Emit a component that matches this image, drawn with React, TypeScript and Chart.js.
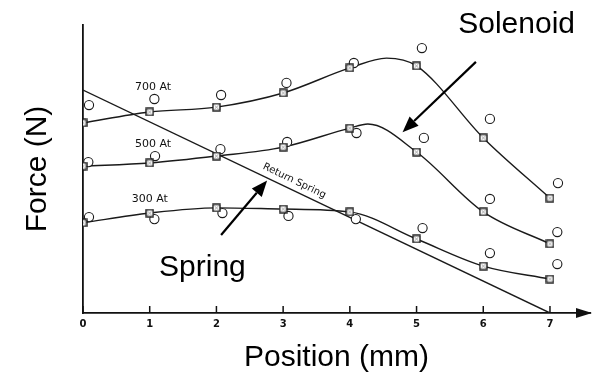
import { useEffect, useRef } from "react";
import { Chart, registerables } from "chart.js";

Chart.register(...registerables);

// ---------- data ----------
const POSITIONS = [0, 1, 2, 3, 4, 5, 6, 7];

// fitted points (squares)
const SQ_700 = [6.6, 6.98, 7.15, 7.64, 8.51, 8.58, 6.08, 3.99];
const SQ_500 = [5.1, 5.21, 5.45, 5.76, 6.42, 5.59, 3.51, 2.4];
const SQ_300 = [3.13, 3.47, 3.65, 3.61, 3.51, 2.57, 1.63, 1.18];

// measured points (circles)
const MEAS_700_X = [0.09, 1.07, 2.07, 3.05, 4.06, 5.08, 6.1, 7.12];
const MEAS_700 = [7.22, 7.43, 7.57, 7.99, 8.68, 9.2, 6.74, 4.51];
const MEAS_500_X = [0.08, 1.08, 2.06, 3.06, 4.1, 5.11, 6.1, 7.11];
const MEAS_500 = [5.24, 5.45, 5.69, 5.94, 6.25, 6.08, 3.96, 2.81];
const MEAS_300_X = [0.09, 1.07, 2.09, 3.08, 4.09, 5.09, 6.1, 7.11];
const MEAS_300 = [3.33, 3.26, 3.47, 3.37, 3.26, 2.95, 2.08, 1.7];

// smooth curves
const CURVE_700_X = [0, 1, 2, 3, 4, 4.55, 5, 6, 7];
const CURVE_700 = [6.6, 6.98, 7.15, 7.64, 8.51, 8.85, 8.58, 6.08, 3.99];
const CURVE_500_X = [0, 1, 2, 3, 4, 4.27, 5, 6, 7];
const CURVE_500 = [5.1, 5.21, 5.45, 5.76, 6.42, 6.56, 5.59, 3.51, 2.4];
const CURVE_300_X = [0, 1, 2, 3, 4, 5, 6, 7];
const CURVE_300 = [3.13, 3.47, 3.65, 3.61, 3.51, 2.57, 1.63, 1.18];

// return spring line
const SPRING_X = [0, 7];
const SPRING = [7.74, 0];

const CURVE_LABELS = ["700 At", "500 At", "300 At"];
const X_TITLE = "Position (mm)";
const Y_TITLE = "Force (N)";

const INK = "#111";
const BIG_FONT = '30px "Liberation Sans", Arial, sans-serif';
const SMALL_FONT = '11px "DejaVu Sans", sans-serif';

const pts = (xs: number[], ys: number[]) => xs.map((x, i) => ({ x, y: ys[i] }));

function makeSquareMarker(): HTMLCanvasElement {
  const c = document.createElement("canvas");
  c.width = 9;
  c.height = 9;
  const g = c.getContext("2d")!;
  g.fillStyle = "#fff";
  g.fillRect(1, 1, 7, 7);
  g.strokeStyle = "#1a1a1a";
  g.lineWidth = 1.4;
  g.strokeRect(1, 1, 7, 7);
  g.strokeStyle = "#777";
  g.lineWidth = 0.7;
  g.beginPath();
  g.moveTo(2.5, 2.5);
  g.lineTo(6.5, 6.5);
  g.moveTo(6.5, 2.5);
  g.lineTo(2.5, 6.5);
  g.stroke();
  return c;
}

function drawArrow(ctx: CanvasRenderingContext2D, x0: number, y0: number, x1: number, y1: number) {
  const ang = Math.atan2(y1 - y0, x1 - x0);
  const len = 16, half = 6.5;
  const bx = x1 - len * Math.cos(ang);
  const by = y1 - len * Math.sin(ang);
  ctx.beginPath();
  ctx.moveTo(x0, y0);
  ctx.lineTo(bx, by);
  ctx.lineWidth = 2.2;
  ctx.stroke();
  ctx.beginPath();
  ctx.moveTo(x1, y1);
  ctx.lineTo(bx + half * Math.sin(ang), by - half * Math.cos(ang));
  ctx.lineTo(bx - half * Math.sin(ang), by + half * Math.cos(ang));
  ctx.closePath();
  ctx.fill();
}

const annotations = {
  id: "annotations",
  afterDraw(chart: any) {
    const { ctx, chartArea, scales } = chart;
    const xs = scales.x, ys = scales.y;
    const X = (v: number) => xs.getPixelForValue(v);
    const Y = (v: number) => ys.getPixelForValue(v);
    ctx.save();
    ctx.strokeStyle = INK;
    ctx.fillStyle = INK;

    // upward tick marks
    ctx.lineWidth = 1.5;
    POSITIONS.forEach((p) => {
      ctx.beginPath();
      ctx.moveTo(X(p), chartArea.bottom);
      ctx.lineTo(X(p), chartArea.bottom - 7);
      ctx.stroke();
    });

    // axis arrowhead
    const r = chartArea.right + 2, b = chartArea.bottom;
    ctx.beginPath();
    ctx.moveTo(r, b);
    ctx.lineTo(r - 16, b - 5);
    ctx.lineTo(r - 16, b + 5);
    ctx.closePath();
    ctx.fill();

    // curve labels
    ctx.font = SMALL_FONT;
    ctx.textAlign = "center";
    ctx.textBaseline = "middle";
    const lx = [1.05, 1.05, 1.0];
    const ly = [7.85, 5.87, 3.96];
    CURVE_LABELS.forEach((t, i) => ctx.fillText(t, X(lx[i]), Y(ly[i])));

    // Return Spring label along the line
    const sx0 = X(SPRING_X[0]), sy0 = Y(SPRING[0]);
    const sx1 = X(SPRING_X[1]), sy1 = Y(SPRING[1]);
    const ang = Math.atan2(sy1 - sy0, sx1 - sx0);
    const t = 3.11 / 7;
    const cx = sx0 + (sx1 - sx0) * t + 9 * Math.sin(ang);
    const cy = sy0 + (sy1 - sy0) * t - 9 * Math.cos(ang);
    ctx.save();
    ctx.translate(cx, cy);
    ctx.rotate(ang);
    ctx.font = '10px "DejaVu Sans", sans-serif';
    ctx.fillText("Return Spring", 0, 0);
    ctx.restore();

    // big labels
    ctx.font = BIG_FONT;
    ctx.fillStyle = "#000";
    ctx.strokeStyle = "#000";
    ctx.fillText("Solenoid", X(6.5), Y(10.0));
    ctx.fillText("Spring", X(1.79), Y(1.56));

    // arrows
    drawArrow(ctx, X(5.89), Y(8.72), X(4.79), Y(6.28));
    drawArrow(ctx, X(2.07), Y(2.71), X(2.76), Y(4.6));

    ctx.restore();
  },
};

export default function App() {
  const ref = useRef<HTMLCanvasElement | null>(null);

  useEffect(() => {
    document.body.style.margin = "0";
    if (!ref.current) return;

    const squareMarker = makeSquareMarker();

    const curve = (xs: number[], ys: number[]) => ({
      type: "line" as const,
      data: pts(xs, ys),
      borderColor: "#1a1a1a",
      borderWidth: 1.4,
      pointRadius: 0,
      cubicInterpolationMode: "monotone" as const,
      fill: false,
      order: 2,
    });
    const squares = (ys: number[]) => ({
      type: "line" as const,
      data: pts(POSITIONS, ys),
      showLine: false,
      pointStyle: squareMarker,
      pointRadius: 4.5,
      order: 1,
    });
    const circles = (xs: number[], ys: number[]) => ({
      type: "line" as const,
      data: pts(xs, ys),
      showLine: false,
      pointStyle: "circle" as const,
      pointRadius: 4.6,
      pointBorderWidth: 1.1,
      pointBorderColor: "#1a1a1a",
      pointBackgroundColor: "#fff",
      order: 1,
    });

    const chart = new Chart(ref.current, {
      type: "line",
      data: {
        datasets: [
          curve(CURVE_700_X, CURVE_700),
          curve(CURVE_500_X, CURVE_500),
          curve(CURVE_300_X, CURVE_300),
          { ...curve(SPRING_X, SPRING), cubicInterpolationMode: "default", tension: 0 },
          squares(SQ_700),
          squares(SQ_500),
          squares(SQ_300),
          circles(MEAS_700_X, MEAS_700),
          circles(MEAS_500_X, MEAS_500),
          circles(MEAS_300_X, MEAS_300),
        ] as any,
      },
      options: {
        animation: false,
        responsive: false,
        maintainAspectRatio: false,
        layout: { padding: { top: 25, right: 16, left: 0, bottom: 0 } },
        plugins: { legend: { display: false }, tooltip: { enabled: false } },
        scales: {
          x: {
            type: "linear",
            min: 0,
            max: 7.6,
            grid: { display: false, drawTicks: false },
            border: { display: true, color: INK, width: 1.8 },
            ticks: {
              stepSize: 1,
              includeBounds: false,
              padding: 5,
              maxRotation: 0,
              color: INK,
              font: { family: '"DejaVu Sans", sans-serif', size: 10, weight: "bold" },
            },
            title: {
              display: true,
              text: X_TITLE,
              color: "#000",
              font: { family: '"Liberation Sans", Arial, sans-serif', size: 30 },
              padding: { top: 0, bottom: 0 },
            },
            afterFit: (s: any) => {
              s.height = 63;
            },
          },
          y: {
            type: "linear",
            min: 0,
            max: 10,
            grid: { display: false, drawTicks: false },
            border: { display: true, color: INK, width: 1.8 },
            ticks: { display: false },
            title: {
              display: true,
              text: Y_TITLE,
              color: "#000",
              font: { family: '"Liberation Sans", Arial, sans-serif', size: 30 },
              padding: { top: 20, bottom: 0 },
            },
            afterFit: (s: any) => {
              s.width = 83;
            },
          },
        },
      } as any,
      plugins: [annotations],
    });
    return () => chart.destroy();
  }, []);

  return (
    <div style={{ width: 606, height: 376, background: "#fff" }}>
      <canvas ref={ref} width={606} height={376} style={{ display: "block" }} />
    </div>
  );
}
